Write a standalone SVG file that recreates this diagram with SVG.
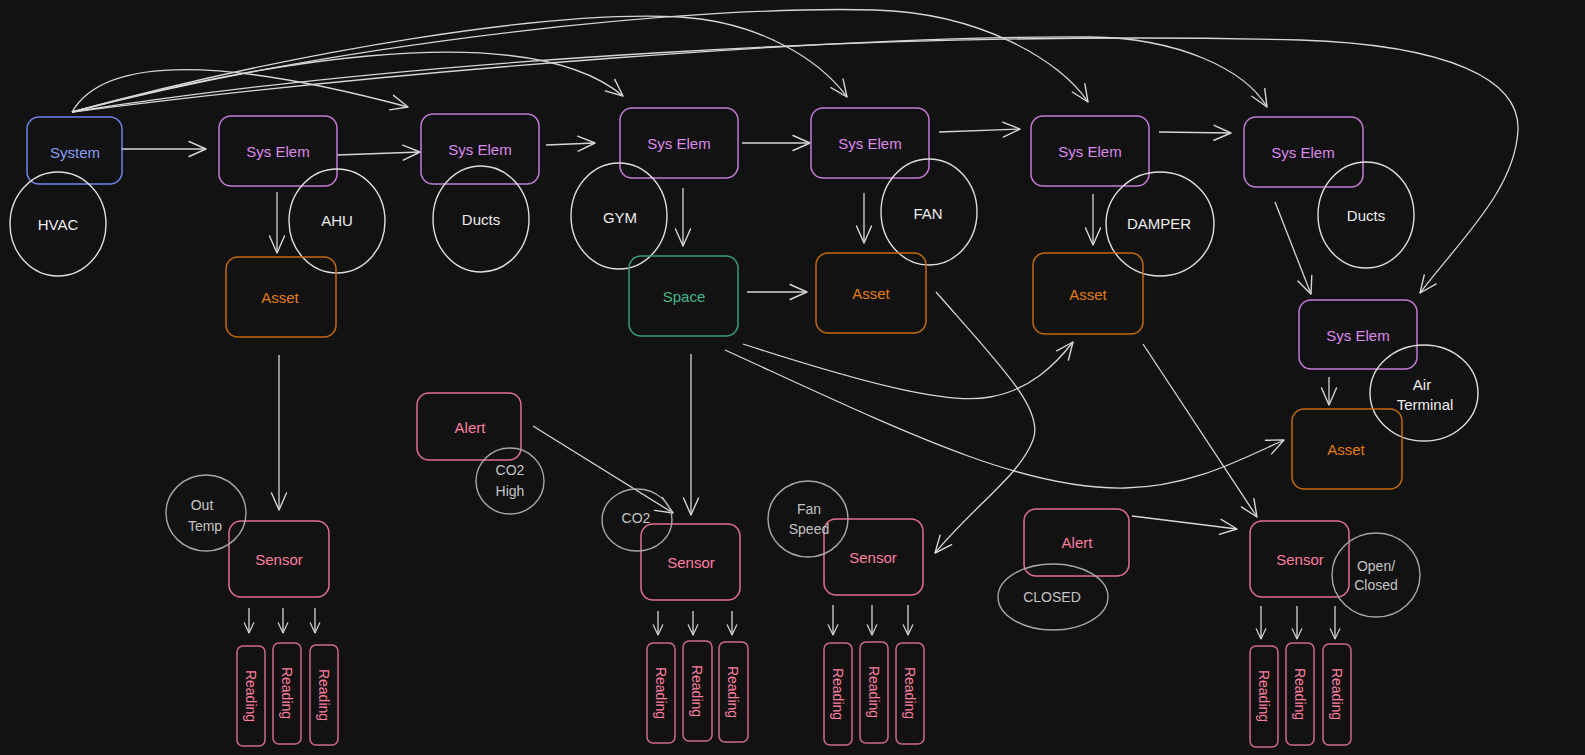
<svg xmlns="http://www.w3.org/2000/svg" width="1585" height="755" viewBox="0 0 1585 755">
<defs>
<marker id="ah" viewBox="0 0 20 20" refX="18" refY="10" markerWidth="20" markerHeight="20" markerUnits="userSpaceOnUse" orient="auto">
<path d="M1,2.5 L18,10 L1,17.5" fill="none" stroke="#d6d6d6" stroke-width="1.4" stroke-linecap="round" stroke-linejoin="round"/>
</marker>
<marker id="ahs" viewBox="0 0 20 20" refX="18" refY="10" markerWidth="12" markerHeight="12" markerUnits="userSpaceOnUse" orient="auto">
<path d="M1,2 L18,10 L1,18" fill="none" stroke="#d6d6d6" stroke-width="2" stroke-linecap="round" stroke-linejoin="round"/>
</marker>
<style>
text{font-family:"Liberation Sans","DejaVu Sans",sans-serif;font-size:15px;text-anchor:middle;dominant-baseline:central}
g rect{fill:none;stroke-width:1.5}
.sys rect{stroke:#6f84e6}.sys text{fill:#8a9df5}
.se rect{stroke:#c47bd6}.se text{fill:#dd88ee}
.as rect{stroke:#c26a10}.as text{fill:#e37d12}
.sp rect{stroke:#3a9c78}.sp text{fill:#45b88a}
.pk rect{stroke:#e2708f}.pk text{fill:#ff7fa0}
.rd rect{stroke:#d0698a}.rd text{fill:#ff7fa0;font-size:14px}
.c ellipse{fill:none;stroke:#dedede;stroke-width:1.4}.c text{fill:#ececec}
.g ellipse{fill:none;stroke:#a6a6a6;stroke-width:1.4}.g text{fill:#c4c4c4;font-size:14px}
#connectors path{fill:none;stroke:#d6d6d6;stroke-width:1.3;marker-end:url(#ah)}
#connectors path.s{marker-end:url(#ahs)}
</style>
</defs>
<rect x="0" y="0" width="1585" height="755" style="fill:#121212;stroke:none"/>

<g id="connectors">
<path d="M121,149 L206,149"/>
<path d="M337,155 L420,152"/>
<path d="M546,145 L595,143"/>
<path d="M742,143 L810,143"/>
<path d="M939,132 L1020,129"/>
<path d="M1159,132 L1231,133"/>
<path d="M277,192 L277,253"/>
<path d="M683,188 L683,246"/>
<path d="M864,193 L864,243"/>
<path d="M1093,194 L1093,245"/>
<path d="M1275,202 L1311,294"/>
<path d="M1329,377 L1329,405"/>
<path d="M747,292 L807,292"/>
<path d="M279,355 L279,510"/>
<path d="M691,354 L691,515"/>
<path d="M533,426 L673,513"/>
<path d="M1132,516 L1237,529"/>
<path d="M1143,344 L1257,517"/>
<path d="M936,292 C1000,365 1045,410 1033,440 C1020,475 975,505 935,553"/>
<path d="M743,344 C870,385 950,405 990,397 C1030,390 1055,365 1073,342"/>
<path d="M725,350 C900,430 1020,490 1125,488 C1190,487 1240,460 1284,440"/>
<path d="M72,112 Q120,30 408,107"/>
<path d="M72,112 C230,70 520,10 623,96"/>
<path d="M72,112 C300,50 550,10 680,17 C760,22 820,60 847,97"/>
<path d="M72,112 C350,40 700,5 875,10 C980,13 1060,60 1088,102"/>
<path d="M72,112 C400,70 850,35 1090,37 C1180,38 1245,70 1267,107"/>
<path d="M72,112 C400,60 900,30 1300,40 C1450,45 1520,80 1518,130 C1515,190 1460,240 1420,293"/>
<path class="s" d="M249,608 L249,633"/>
<path class="s" d="M283,608 L283,633"/>
<path class="s" d="M315,608 L315,633"/>
<path class="s" d="M658,611 L658,635"/>
<path class="s" d="M693,611 L693,635"/>
<path class="s" d="M732,611 L732,635"/>
<path class="s" d="M833,605 L833,635"/>
<path class="s" d="M872,605 L872,635"/>
<path class="s" d="M908,605 L908,635"/>
<path class="s" d="M1261,606 L1261,639"/>
<path class="s" d="M1297,606 L1297,639"/>
<path class="s" d="M1335,606 L1335,639"/>
</g>

<g id="system" class="sys"><rect x="27" y="117" width="95" height="67" rx="12"/><text x="75" y="152">System</text></g>
<g id="se1" class="se"><rect x="219" y="116" width="118" height="70" rx="12"/><text x="278" y="151">Sys Elem</text></g>
<g id="se2" class="se"><rect x="421" y="114" width="118" height="70" rx="12"/><text x="480" y="149">Sys Elem</text></g>
<g id="se3" class="se"><rect x="620" y="108" width="118" height="70" rx="12"/><text x="679" y="143">Sys Elem</text></g>
<g id="se4" class="se"><rect x="811" y="108" width="118" height="70" rx="12"/><text x="870" y="143">Sys Elem</text></g>
<g id="se5" class="se"><rect x="1031" y="116" width="118" height="70" rx="12"/><text x="1090" y="151">Sys Elem</text></g>
<g id="se6" class="se"><rect x="1244" y="117" width="119" height="70" rx="12"/><text x="1303" y="152">Sys Elem</text></g>
<g id="se7" class="se"><rect x="1299" y="300" width="118" height="69" rx="12"/><text x="1358" y="335">Sys Elem</text></g>

<g id="hvac" class="c"><ellipse cx="58" cy="224" rx="48" ry="52"/><text x="58" y="224">HVAC</text></g>
<g id="ahu" class="c"><ellipse cx="337" cy="221" rx="48" ry="52"/><text x="337" y="220">AHU</text></g>
<g id="ducts1" class="c"><ellipse cx="481" cy="219" rx="48" ry="53"/><text x="481" y="219">Ducts</text></g>
<g id="gym" class="c"><ellipse cx="619" cy="216" rx="48" ry="53"/><text x="620" y="217">GYM</text></g>
<g id="fan" class="c"><ellipse cx="929" cy="212" rx="48" ry="53"/><text x="928" y="213">FAN</text></g>
<g id="damper" class="c"><ellipse cx="1160" cy="224" rx="54" ry="52"/><text x="1159" y="223">DAMPER</text></g>
<g id="ducts2" class="c"><ellipse cx="1366" cy="215" rx="48" ry="53"/><text x="1366" y="215">Ducts</text></g>
<g id="airterminal" class="c"><ellipse cx="1424" cy="393" rx="54" ry="48"/><text x="1422" y="384">Air</text><text x="1425" y="404">Terminal</text></g>

<g id="asset1" class="as"><rect x="226" y="257" width="110" height="80" rx="12"/><text x="280" y="297">Asset</text></g>
<g id="space" class="sp"><rect x="629" y="256" width="109" height="80" rx="12"/><text x="684" y="296">Space</text></g>
<g id="asset2" class="as"><rect x="816" y="253" width="110" height="80" rx="12"/><text x="871" y="293">Asset</text></g>
<g id="asset3" class="as"><rect x="1033" y="253" width="110" height="81" rx="12"/><text x="1088" y="294">Asset</text></g>
<g id="asset4" class="as"><rect x="1292" y="409" width="110" height="80" rx="12"/><text x="1346" y="449">Asset</text></g>

<g id="alert1" class="pk"><rect x="417" y="393" width="104" height="67" rx="12"/><text x="470" y="427">Alert</text></g>
<g id="co2high" class="g"><ellipse cx="510" cy="481" rx="34" ry="33"/><text x="510" y="470">CO2</text><text x="510" y="491">High</text></g>
<g id="alert2" class="pk"><rect x="1024" y="509" width="105" height="67" rx="12"/><text x="1077" y="542">Alert</text></g>
<g id="closed" class="g"><ellipse cx="1053" cy="597" rx="55" ry="33"/><text x="1052" y="597">CLOSED</text></g>

<g id="sensor1" class="pk"><rect x="229" y="521" width="100" height="76" rx="12"/><text x="279" y="559">Sensor</text></g>
<g id="outtemp" class="g"><ellipse cx="206" cy="513" rx="40" ry="38"/><text x="202" y="505">Out</text><text x="205" y="526">Temp</text></g>
<g id="sensor2" class="pk"><rect x="641" y="524" width="99" height="76" rx="12"/><text x="691" y="562">Sensor</text></g>
<g id="co2" class="g"><ellipse cx="637" cy="520" rx="35" ry="31"/><text x="636" y="518">CO2</text></g>
<g id="sensor3" class="pk"><rect x="824" y="519" width="99" height="76" rx="12"/><text x="873" y="557">Sensor</text></g>
<g id="fanspeed" class="g"><ellipse cx="808" cy="519" rx="40" ry="38"/><text x="809" y="509">Fan</text><text x="809" y="529">Speed</text></g>
<g id="sensor4" class="pk"><rect x="1250" y="521" width="99" height="76" rx="12"/><text x="1300" y="559">Sensor</text></g>
<g id="openclosed" class="g"><ellipse cx="1376" cy="575" rx="44" ry="42"/><text x="1376" y="566">Open/</text><text x="1376" y="585">Closed</text></g>

<g id="r1a" class="rd"><rect x="237" y="646" width="28" height="100" rx="6"/><text transform="translate(251,696) rotate(90)">Reading</text></g>
<g id="r1b" class="rd"><rect x="273" y="643" width="28" height="101" rx="6"/><text transform="translate(287,693) rotate(90)">Reading</text></g>
<g id="r1c" class="rd"><rect x="310" y="645" width="28" height="100" rx="6"/><text transform="translate(324,695) rotate(90)">Reading</text></g>
<g id="r2a" class="rd"><rect x="647" y="643" width="28" height="100" rx="6"/><text transform="translate(661,693) rotate(90)">Reading</text></g>
<g id="r2b" class="rd"><rect x="683" y="641" width="29" height="100" rx="6"/><text transform="translate(697,691) rotate(90)">Reading</text></g>
<g id="r2c" class="rd"><rect x="719" y="642" width="29" height="100" rx="6"/><text transform="translate(733,692) rotate(90)">Reading</text></g>
<g id="r3a" class="rd"><rect x="824" y="643" width="28" height="102" rx="6"/><text transform="translate(838,694) rotate(90)">Reading</text></g>
<g id="r3b" class="rd"><rect x="860" y="642" width="28" height="101" rx="6"/><text transform="translate(874,692) rotate(90)">Reading</text></g>
<g id="r3c" class="rd"><rect x="896" y="643" width="28" height="101" rx="6"/><text transform="translate(910,693) rotate(90)">Reading</text></g>
<g id="r4a" class="rd"><rect x="1250" y="646" width="28" height="101" rx="6"/><text transform="translate(1264,696) rotate(90)">Reading</text></g>
<g id="r4b" class="rd"><rect x="1286" y="643" width="28" height="102" rx="6"/><text transform="translate(1300,694) rotate(90)">Reading</text></g>
<g id="r4c" class="rd"><rect x="1323" y="644" width="28" height="101" rx="6"/><text transform="translate(1337,694) rotate(90)">Reading</text></g>
</svg>
